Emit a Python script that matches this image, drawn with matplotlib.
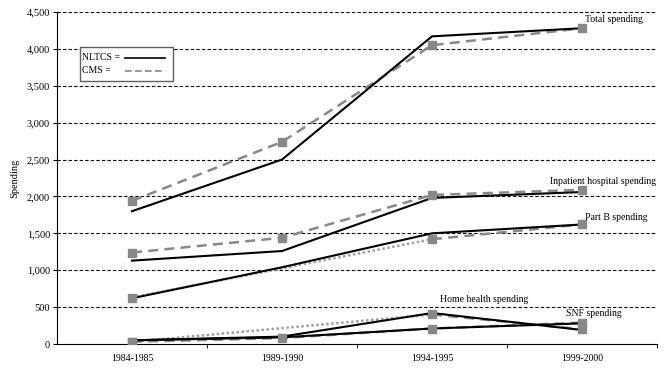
import numpy as np
import matplotlib
matplotlib.use("Agg")
import matplotlib.pyplot as plt
from matplotlib.lines import Line2D
from matplotlib.patches import Rectangle

plt.rcParams['font.family'] = ['Liberation Serif', 'DejaVu Serif']

periods = ["1984-1985", "1989-1990", "1994-1995", "1999-2000"]
yticks = [0, 500, 1000, 1500, 2000, 2500, 3000, 3500, 4000, 4500]

series_names = ["Total spending", "Inpatient hospital spending", "Part B spending",
                "Home health spending", "SNF spending"]
nltcs_total = [1800, 2500, 4170, 4280]
nltcs_inpatient = [1130, 1260, 1980, 2060]
nltcs_partb = [620, 1040, 1500, 1620]
nltcs_homehealth = [50, 100, 420, 190]
nltcs_snf = [50, 90, 210, 280]

cms_total = [1940, 2740, 4050, 4280]
cms_inpatient = [1240, 1440, 2020, 2090]
cms_partb = [630, np.nan, 1420, 1620]
cms_homehealth = [30, np.nan, 400, 200]
cms_snf = [30, 80, 210, 290]

legend_labels = ["NLTCS =", "CMS ="]

nltcs = [nltcs_total, nltcs_inpatient, nltcs_partb, nltcs_homehealth, nltcs_snf]
cms = [cms_total, cms_inpatient, cms_partb, cms_homehealth, cms_snf]

GRAY = "#888888"

fig = plt.figure(figsize=(6.66, 3.71), dpi=100)
ax = fig.add_axes([57/666, 27/371, 600/666, 332/371])
x = np.arange(len(periods))

ax.set_xlim(-0.5, 3.5)
ax.set_ylim(0, 4500)
for v in yticks[1:]:
    ax.axhline(v, color="black", lw=0.8, dashes=(3, 2), zorder=1)

# CMS gray dashed, with dotted bridges over missing values
for vals in cms:
    v = np.array(vals, dtype=float)
    ax.plot(x, v, color=GRAY, lw=1.8, dashes=(4, 2.5), zorder=2)
    ok = np.where(~np.isnan(v))[0]
    for a, b in zip(ok[:-1], ok[1:]):
        if b - a > 1:
            ax.plot([x[a], x[b]], [v[a], v[b]], color="#a0a0a0", lw=1.8,
                    dashes=(1, 1), zorder=2)
# NLTCS black solid
for vals in nltcs:
    ax.plot(x, vals, color="black", lw=1.5, zorder=3)
# markers
for vals in cms:
    v = np.array(vals, dtype=float)
    ok = ~np.isnan(v)
    ax.plot(x[ok], v[ok], ls="none", marker="s", ms=5.5, color=GRAY,
            mec=GRAY, zorder=4)

ax.spines["top"].set_visible(False)
ax.spines["right"].set_visible(False)
ax.set_yticks(yticks)
ax.set_yticklabels([f"{v:,}" for v in yticks], fontsize=7.5)
ax.set_xticks(x)
ax.set_xticklabels(periods, fontsize=7)
ax.tick_params(axis="x", which="major", length=0, pad=7)
ax.set_xticks(np.arange(0.5, 3.6, 1.0), minor=True)
ax.tick_params(axis="x", which="minor", length=3, direction="out")
ax.tick_params(axis="y", length=3, direction="out", pad=2)
ax.set_ylabel("Spending", fontsize=7.5, labelpad=5)

# labels
label_pos = [(3.02, 4400), (2.79, 2200), (3.02, 1720), (2.05, 600), (2.89, 420)]
for name, (lx, ly) in zip(series_names, label_pos):
    ax.text(lx, ly, name, fontsize=7, ha="left", va="center", zorder=5)

# legend drawn by hand: text on the left, line sample on the right
ax.add_patch(Rectangle((0.0383, 0.792), 0.155, 0.1026, transform=ax.transAxes,
                       facecolor="white", edgecolor="#606060", lw=1.0, zorder=6))
rows_y = [0.862, 0.823]
styles = [dict(color="black", lw=1.2), dict(color=GRAY, lw=1.2, dashes=(4, 2))]
for lab, yy, st in zip(legend_labels, rows_y, styles):
    ax.text(0.041, yy, lab, transform=ax.transAxes, fontsize=7,
            ha="left", va="center", zorder=7)
    ax.add_line(Line2D([0.1133, 0.18], [yy, yy], transform=ax.transAxes,
                       zorder=7, **st))

fig.savefig("out.png", dpi=100)
